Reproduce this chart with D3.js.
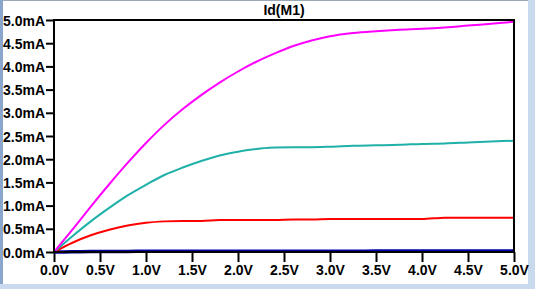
<!DOCTYPE html>
<html>
<head>
<meta charset="utf-8">
<script src="https://cdn.jsdelivr.net/npm/d3@7"></script>
<style>
  body { margin: 0; background: #c9d9ee; }
  #chart { display: block; }
</style>
</head>
<body>
<svg id="chart" width="535" height="289"></svg>
<script>
// Vds sweep values (V) and drain current traces (mA)
const vds = [0, 0.2, 0.4, 0.6, 0.8, 1.0, 1.2, 1.4, 1.6, 1.8, 2.0, 2.2, 2.4, 2.6, 2.8, 3.0, 3.25, 3.5, 3.75, 4.0, 4.25, 4.5, 4.75, 5.0];
const idMagenta = [0, 0.48, 0.98, 1.46, 1.92, 2.35, 2.74, 3.08, 3.38, 3.65, 3.89, 4.1, 4.28, 4.44, 4.56, 4.65, 4.72, 4.76, 4.79, 4.81, 4.84, 4.88, 4.92, 4.96];
const idTeal = [0, 0.34, 0.66, 0.95, 1.22, 1.45, 1.66, 1.82, 1.96, 2.08, 2.16, 2.22, 2.25, 2.26, 2.26, 2.27, 2.29, 2.3, 2.31, 2.33, 2.34, 2.36, 2.38, 2.4];
const idRed = [0, 0.2, 0.36, 0.48, 0.57, 0.63, 0.66, 0.67, 0.67, 0.69, 0.69, 0.69, 0.69, 0.7, 0.7, 0.71, 0.71, 0.71, 0.71, 0.71, 0.74, 0.74, 0.74, 0.74];
const idBlue = [0, 0.005, 0.01, 0.012, 0.013, 0.014, 0.015, 0.015, 0.016, 0.016, 0.017, 0.017, 0.017, 0.018, 0.018, 0.018, 0.018, 0.019, 0.019, 0.019, 0.019, 0.02, 0.02, 0.02];

const xTicks = [0, 0.5, 1, 1.5, 2, 2.5, 3, 3.5, 4, 4.5, 5];
const yTicks = [0, 0.5, 1, 1.5, 2, 2.5, 3, 3.5, 4, 4.5, 5];
const title = "Id(M1)";

const svg = d3.select("#chart");
const font = "'Liberation Sans', Arial, sans-serif";

// window frame
svg.append("rect").attr("x", 3).attr("y", 0).attr("width", 525).attr("height", 284).attr("fill", "#ffffff");
svg.append("rect").attr("x", 0).attr("y", 0).attr("width", 3).attr("height", 284).attr("fill", "#8aa6cc");
svg.append("line").attr("x1", 3).attr("x2", 528).attr("y1", 0.5).attr("y2", 0.5).attr("stroke", "#9aa8b8");

const margin = { top: 20, right: 21, bottom: 37, left: 54 };
const width = 535 - margin.left - margin.right;
const height = 289 - margin.top - margin.bottom;

const g = svg.append("g").attr("transform", `translate(${margin.left},${margin.top})`);

const x = d3.scaleLinear().domain([0, 5]).range([0, width]);
const y = d3.scaleLinear().domain([0, 5]).range([height, 0]);

// axes
const xAxis = g.append("g")
  .attr("transform", `translate(0,${height})`)
  .call(d3.axisBottom(x).tickValues(xTicks).tickSize(10).tickPadding(3)
    .tickFormat((d) => d3.format(".1f")(d) + "V"));
const yAxis = g.append("g")
  .call(d3.axisLeft(y).tickValues(yTicks).tickSize(8).tickPadding(1)
    .tickFormat((d) => d3.format(".1f")(d) + "mA"));

[xAxis, yAxis].forEach((a) => {
  a.select(".domain").remove();
  a.selectAll("line").attr("stroke", "#000").attr("stroke-width", 2);
  a.selectAll("text")
    .attr("fill", "#000")
    .style("font-family", font)
    .style("font-size", "14px")
    .style("font-weight", "bold");
});
yAxis.selectAll("text").attr("dy", "0.36em");

// curves
const series = [
  { values: idBlue, color: "#0000a8", w: 3.5 },
  { values: idRed, color: "#ff0000", w: 2 },
  { values: idTeal, color: "#1fb0a8", w: 2 },
  { values: idMagenta, color: "#ff00ff", w: 2 }
];

const line = d3.line()
  .x((d) => x(d[0]))
  .y((d) => y(d[1]))
  .curve(d3.curveMonotoneX);

series.forEach((s) => {
  g.append("path")
    .datum(vds.map((v, i) => [v, s.values[i]]))
    .attr("d", line)
    .attr("fill", "none")
    .attr("stroke", s.color)
    .attr("stroke-width", s.w);
});

// plot box
g.append("rect")
  .attr("x", 0).attr("y", 0)
  .attr("width", width).attr("height", height)
  .attr("fill", "none")
  .attr("stroke", "#000")
  .attr("stroke-width", 2);

svg.append("text")
  .attr("x", margin.left + width / 2)
  .attr("y", 15)
  .attr("text-anchor", "middle")
  .style("font-family", font)
  .style("font-size", "14px")
  .style("font-weight", "bold")
  .text(title);
</script>
</body>
</html>
